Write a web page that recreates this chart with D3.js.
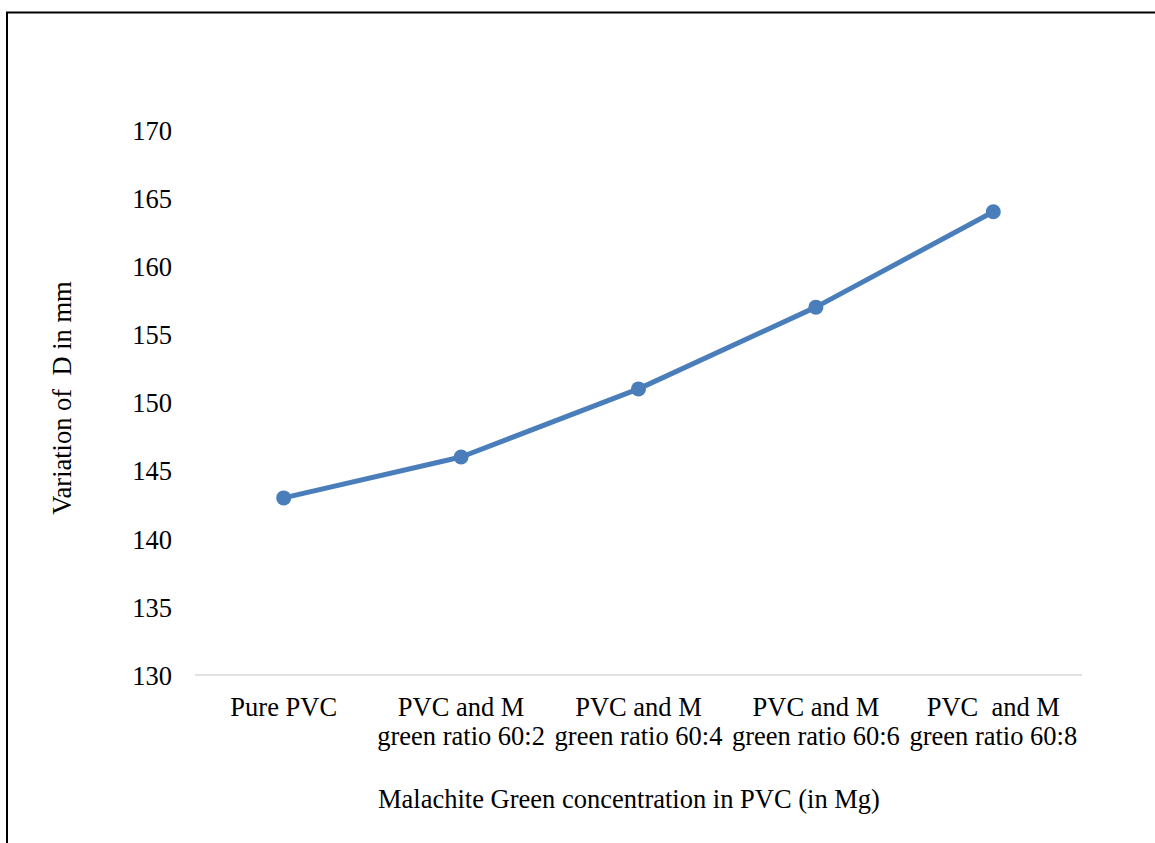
<!DOCTYPE html>
<html>
<head>
<meta charset="utf-8">
<script src="https://cdn.jsdelivr.net/npm/d3@7"></script>
<style>
  body { margin: 0; background: #fff; }
  svg text { font-family: "Liberation Serif", "Times New Roman", serif; fill: #000; }
</style>
</head>
<body>
<svg id="chart"></svg>
<script>
// Data
const categories = [
  ['Pure PVC'],
  ['PVC and M', 'green ratio 60:2'],
  ['PVC and M', 'green ratio 60:4'],
  ['PVC and M', 'green ratio 60:6'],
  ['PVC  and M', 'green ratio 60:8']
];
const values = [143, 146, 151, 157, 164];
const yTicks = [130, 135, 140, 145, 150, 155, 160, 165, 170];

const width = 1155;
const height = 843;
const margin = { left: 195, right: 73, top: 130, bottom: 168 };
const fontSize = '26.5px';

const svg = d3.select('#chart')
  .attr('width', width)
  .attr('height', height);

// Outer frame (clipped at right and bottom like the source)
svg.append('path')
  .attr('d', `M7,${height + 5} L7,12.5 L${width + 5},12.5`)
  .attr('fill', 'none')
  .attr('stroke', '#000')
  .attr('stroke-width', 2);

// Scales
const xScale = d3.scaleBand()
  .domain(d3.range(categories.length))
  .range([margin.left, width - margin.right]);

const yScale = d3.scaleLinear()
  .domain([130, 170])
  .range([height - margin.bottom, margin.top]);

// Y axis (labels only)
const yAxis = d3.axisLeft(yScale).tickValues(yTicks).tickSize(0).tickPadding(0);
const yG = svg.append('g')
  .attr('transform', 'translate(172, 0)')
  .call(yAxis)
  .attr('font-family', null)
  .attr('font-size', null);
yG.select('.domain').remove();
yG.selectAll('text')
  .style('font-size', fontSize)
  .attr('fill', '#000')
  .attr('dy', '0.35em');

// X axis line
svg.append('line')
  .attr('x1', margin.left)
  .attr('x2', width - margin.right)
  .attr('y1', yScale(130))
  .attr('y2', yScale(130))
  .attr('stroke', '#d9d9d9')
  .attr('stroke-width', 1.5);

// X category labels
const xLabels = svg.append('g');
categories.forEach((lines, i) => {
  const t = xLabels.append('text')
    .attr('x', xScale(i) + xScale.bandwidth() / 2)
    .attr('y', 716)
    .attr('text-anchor', 'middle')
    .style('font-size', fontSize)
    .style('white-space', 'pre');
  lines.forEach((line, j) => {
    t.append('tspan')
      .attr('x', xScale(i) + xScale.bandwidth() / 2)
      .attr('dy', j === 0 ? 0 : 29)
      .text(line);
  });
});

// Line and markers
const line = d3.line()
  .x((d, i) => xScale(i) + xScale.bandwidth() / 2)
  .y(d => yScale(d));

svg.append('path')
  .datum(values)
  .attr('d', line)
  .attr('fill', 'none')
  .attr('stroke', '#4a7ebb')
  .attr('stroke-width', 5)
  .attr('stroke-linejoin', 'round');

svg.selectAll('.dot')
  .data(values)
  .enter()
  .append('circle')
  .attr('class', 'dot')
  .attr('cx', (d, i) => xScale(i) + xScale.bandwidth() / 2)
  .attr('cy', d => yScale(d))
  .attr('r', 7.5)
  .attr('fill', '#4a7ebb');

// Axis titles
svg.append('text')
  .attr('x', 629)
  .attr('y', 808)
  .attr('text-anchor', 'middle')
  .style('font-size', fontSize)
  .text('Malachite Green concentration in PVC (in Mg)');

svg.append('text')
  .attr('transform', 'translate(71, 398) rotate(-90)')
  .attr('text-anchor', 'middle')
  .style('font-size', fontSize)
  .style('white-space', 'pre')
  .text('Variation of  D in mm');
</script>
</body>
</html>
